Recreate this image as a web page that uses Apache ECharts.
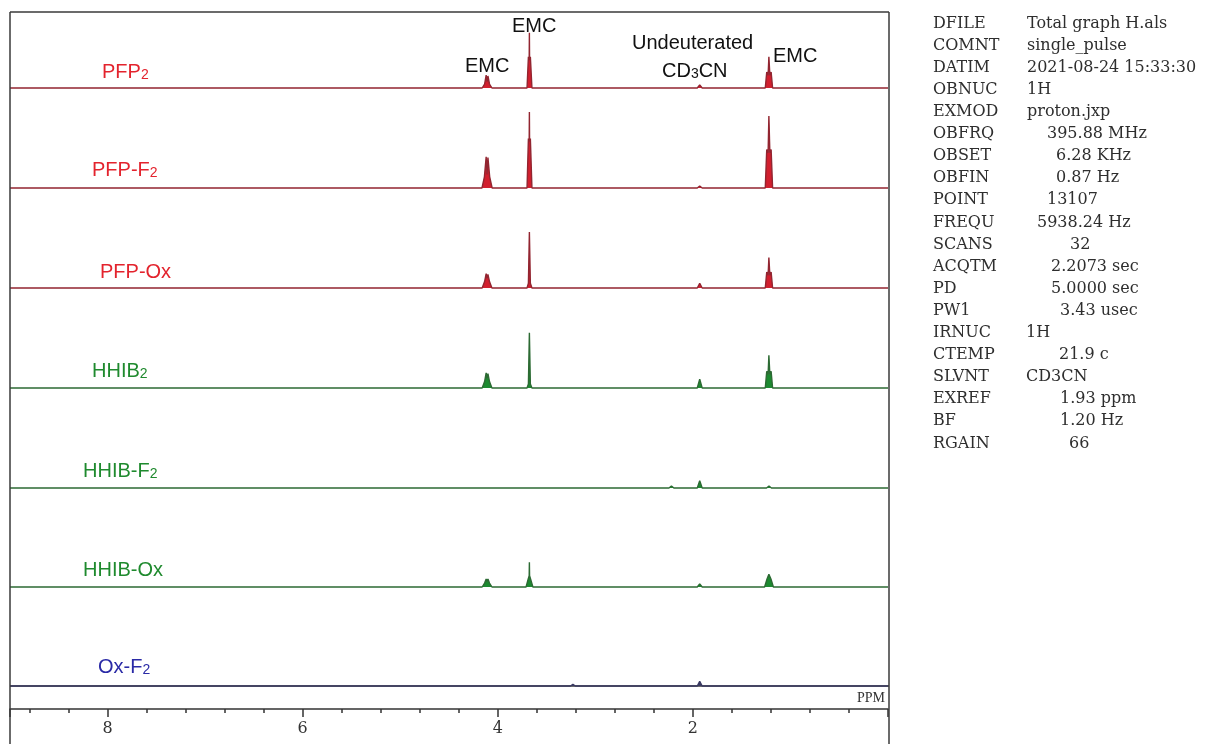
<!DOCTYPE html>
<html>
<head>
<meta charset="utf-8">
<title>1H NMR stack</title>
<script src="https://cdn.jsdelivr.net/npm/echarts@6/dist/echarts.min.js"></script>
<style>
  html, body { margin: 0; padding: 0; background: #ffffff; }
  #chart { width: 1207px; height: 744px; }
</style>
</head>
<body>
<div id="chart"></div>
<script>
// Chemical-shift axis (ppm), labelled major ticks
const tickLabels = [2, 4, 6, 8];

// Sample names, top to bottom (main part, subscript part)
const sampleNames = [
  ['PFP', '2'], ['PFP-F', '2'], ['PFP-Ox', ''],
  ['HHIB', '2'], ['HHIB-F', '2'], ['HHIB-Ox', ''], ['Ox-F', '2']
];

// Spectra: [ppm, relative intensity], listed from high to low ppm
const specPFP2 = [
  [9, 0],
  [4.16, 0], [4.135, 5], [4.119, 16], [4.11, 8], [4.101, 15], [4.085, 5], [4.06, 0],
  [3.70, 0], [3.686, 39], [3.678, 35], [3.676, 69], [3.674, 35], [3.666, 39], [3.65, 0],
  [1.955, 0], [1.93, 4], [1.905, 0],
  [1.258, 0], [1.243, 20], [1.229, 16], [1.221, 39], [1.211, 16], [1.198, 20], [1.183, 0],
  [0, 0]
];
const specPFPF2 = [
  [9, 0],
  [4.162, 0], [4.137, 14], [4.119, 39], [4.11, 17], [4.101, 38], [4.083, 14], [4.058, 0],
  [3.70, 0], [3.686, 62], [3.678, 58], [3.676, 95], [3.674, 58], [3.666, 62], [3.65, 0],
  [1.955, 0], [1.93, 2.5], [1.905, 0],
  [1.258, 0], [1.243, 48], [1.229, 44], [1.221, 90], [1.211, 44], [1.198, 48], [1.183, 0],
  [0, 0]
];
const specPFPOx = [
  [9, 0],
  [4.16, 0], [4.135, 8], [4.119, 18], [4.11, 12], [4.101, 17], [4.085, 8], [4.06, 0],
  [3.70, 0], [3.686, 6], [3.676, 70], [3.666, 6], [3.65, 0],
  [1.955, 0], [1.93, 6], [1.905, 0],
  [1.258, 0], [1.243, 20], [1.229, 16], [1.221, 38], [1.211, 16], [1.198, 20], [1.183, 0],
  [0, 0]
];
const specHHIB2 = [
  [9, 0],
  [4.16, 0], [4.135, 8], [4.119, 19], [4.11, 12], [4.101, 18], [4.085, 8], [4.06, 0],
  [3.70, 0], [3.686, 5], [3.676, 69], [3.666, 5], [3.65, 0],
  [1.955, 0], [1.93, 11], [1.905, 0],
  [1.258, 0], [1.243, 21], [1.229, 17], [1.221, 41], [1.211, 17], [1.198, 21], [1.183, 0],
  [0, 0]
];
const specHHIBF2 = [
  [9, 0],
  [2.245, 0], [2.22, 2.5], [2.195, 0],
  [1.955, 0], [1.93, 9], [1.905, 0],
  [1.245, 0], [1.22, 2.5], [1.195, 0],
  [0, 0]
];
const specHHIBOx = [
  [9, 0],
  [4.16, 0], [4.135, 5], [4.119, 10], [4.11, 7], [4.101, 10], [4.085, 5], [4.06, 0],
  [3.71, 0], [3.688, 10], [3.678, 14], [3.676, 31], [3.674, 14], [3.664, 10], [3.64, 0],
  [1.955, 0], [1.93, 4], [1.905, 0],
  [1.265, 0], [1.24, 10], [1.221, 16], [1.20, 10], [1.175, 0],
  [0, 0]
];
const specOxF2 = [
  [9, 0],
  [3.255, 0], [3.23, 2], [3.205, 0],
  [1.955, 0], [1.93, 6], [1.905, 0],
  [0, 0]
];
const spectra = [specPFP2, specPFPF2, specPFPOx, specHHIB2, specHHIBF2, specHHIBOx, specOxF2];

// Acquisition parameters
const infoKeys = ['DFILE', 'COMNT', 'DATIM', 'OBNUC', 'EXMOD', 'OBFRQ', 'OBSET', 'OBFIN', 'POINT', 'FREQU',
  'SCANS', 'ACQTM', 'PD', 'PW1', 'IRNUC', 'CTEMP', 'SLVNT', 'EXREF', 'BF', 'RGAIN'];
const infoValues = ['Total graph H.als', 'single_pulse', '2021-08-24 15:33:30', '1H', 'proton.jxp', '395.88 MHz',
  '6.28 KHz', '0.87 Hz', '13107', '5938.24 Hz', '32', '2.2073 sec', '5.0000 sec', '3.43 usec', '1H', '21.9 c',
  'CD3CN', '1.93 ppm', '1.20 Hz', '66'];

// ---- layout and styling ----
const RED = { label: '#e3232d', line: '#922530', fill: '#d21f2e' };
const GREEN = { label: '#1f8a2e', line: '#2c6a33', fill: '#1c8a30' };
const BLUE = { label: '#2a2aa6', line: '#3a3a62', fill: '#3a3a62' };
const palettes = [RED, RED, RED, GREEN, GREEN, GREEN, BLUE];
const baselines = [88, 188, 288, 388, 488, 587, 686];
const labelPos = [[102, 70], [92, 168], [100, 270], [92, 369], [83, 469], [83, 568], [98, 665]];
const valueX = [1027, 1027, 1027, 1027, 1027, 1047, 1056, 1056, 1047, 1037, 1070, 1051, 1051, 1060, 1026, 1059, 1026, 1060, 1060, 1069];
const GRID_H = 80;
const PLOT_L = 10, PLOT_R = 888;
const SANS = '"Liberation Sans", Arial, sans-serif';
const SERIF = '"DejaVu Serif", serif';

const chart = echarts.init(document.getElementById('chart'), null, { renderer: 'canvas' });

const grids = [], xAxes = [], yAxes = [], series = [], titles = [];
spectra.forEach((data, i) => {
  grids.push({ left: PLOT_L, width: PLOT_R - PLOT_L, top: baselines[i] - GRID_H, height: GRID_H });
  const last = i === spectra.length - 1;
  xAxes.push({
    gridIndex: i, type: 'value', min: 0, max: 9, inverse: true,
    show: last,
    interval: 2,
    offset: last ? 23 : 0,
    axisLine: { show: true, onZero: false, lineStyle: { color: '#333', width: 1.5 } },
    axisTick: { show: true, length: 8, lineStyle: { color: '#333', width: 1.5 } },
    minorTick: { show: true, splitNumber: 5, length: 4, lineStyle: { color: '#333', width: 1.5 } },
    axisLabel: {
      margin: 12, fontSize: 16, color: '#333', fontFamily: SERIF,
      formatter: v => (tickLabels.indexOf(v) >= 0 ? String(v) : '')
    },
    splitLine: { show: false }, minorSplitLine: { show: false }
  });
  yAxes.push({ gridIndex: i, type: 'value', min: 0, max: 100, show: false, splitLine: { show: false } });
  const pal = palettes[i];
  series.push({
    type: 'line', xAxisIndex: i, yAxisIndex: i, data: data,
    symbol: 'none', silent: true, animation: false, clip: false,
    lineStyle: { color: pal.line, width: 1.4 },
    areaStyle: { color: pal.fill, opacity: 1, origin: 'start' },
    z: 5
  });
  const nm = sampleNames[i];
  titles.push({
    text: '{a|' + nm[0] + '}' + (nm[1] ? '{s|' + nm[1] + '}' : ''),
    left: labelPos[i][0], top: labelPos[i][1] - 12, padding: 0,
    textStyle: {
      rich: {
        a: { fontSize: 20, fontWeight: 'normal', color: pal.label, fontFamily: SANS, verticalAlign: 'bottom', lineHeight: 24 },
        s: { fontSize: 14, fontWeight: 'normal', color: pal.label, fontFamily: SANS, verticalAlign: 'bottom', lineHeight: 24 }
      }
    }
  });
});

// Peak annotations
const annStyle = {
  a: { fontSize: 20, fontWeight: 'normal', color: '#111', fontFamily: SANS, verticalAlign: 'bottom', lineHeight: 24 },
  s: { fontSize: 14, fontWeight: 'normal', color: '#111', fontFamily: SANS, verticalAlign: 'bottom', lineHeight: 24 }
};
[
  ['{a|EMC}', 465, 64], ['{a|EMC}', 512, 24], ['{a|Undeuterated}', 632, 41],
  ['{a|CD}{s|3}{a|CN}', 662, 69], ['{a|EMC}', 773, 54]
].forEach(t => {
  titles.push({ text: t[0], left: t[1], top: t[2] - 12, padding: 0, textStyle: { rich: annStyle } });
});

const graphics = [];
// Frame and separator above the ppm ruler
const frameLine = { stroke: '#3a3a3a', lineWidth: 1.5 };
graphics.push({ type: 'line', shape: { x1: PLOT_L, y1: 12, x2: PLOT_R + 1, y2: 12 }, style: frameLine, z: 10 });
graphics.push({ type: 'line', shape: { x1: PLOT_L, y1: 12, x2: PLOT_L, y2: 744 }, style: frameLine, z: 10 });
graphics.push({ type: 'line', shape: { x1: PLOT_R + 1, y1: 12, x2: PLOT_R + 1, y2: 744 }, style: frameLine, z: 10 });
graphics.push({ type: 'line', shape: { x1: PLOT_L, y1: 686, x2: PLOT_R + 1, y2: 686 }, style: frameLine, z: 1 });
graphics.push({
  type: 'text', x: 885, y: 698, z: 10,
  style: { text: 'PPM', font: '14px "Liberation Serif", serif', fill: '#333', textAlign: 'right', textVerticalAlign: 'middle' }
});
// Parameter table
infoKeys.forEach((k, i) => {
  const y = 23.5 + i * 22.1;
  graphics.push({ type: 'text', x: 933, y: y, style: { text: k, font: '16px ' + SERIF, fill: '#2e2e2e', textVerticalAlign: 'middle' } });
  graphics.push({ type: 'text', x: valueX[i], y: y, style: { text: infoValues[i], font: '16px ' + SERIF, fill: '#2e2e2e', textVerticalAlign: 'middle' } });
});

chart.setOption({
  animation: false,
  backgroundColor: '#ffffff',
  title: titles,
  grid: grids,
  xAxis: xAxes,
  yAxis: yAxes,
  series: series,
  graphic: graphics
});
</script>
</body>
</html>
